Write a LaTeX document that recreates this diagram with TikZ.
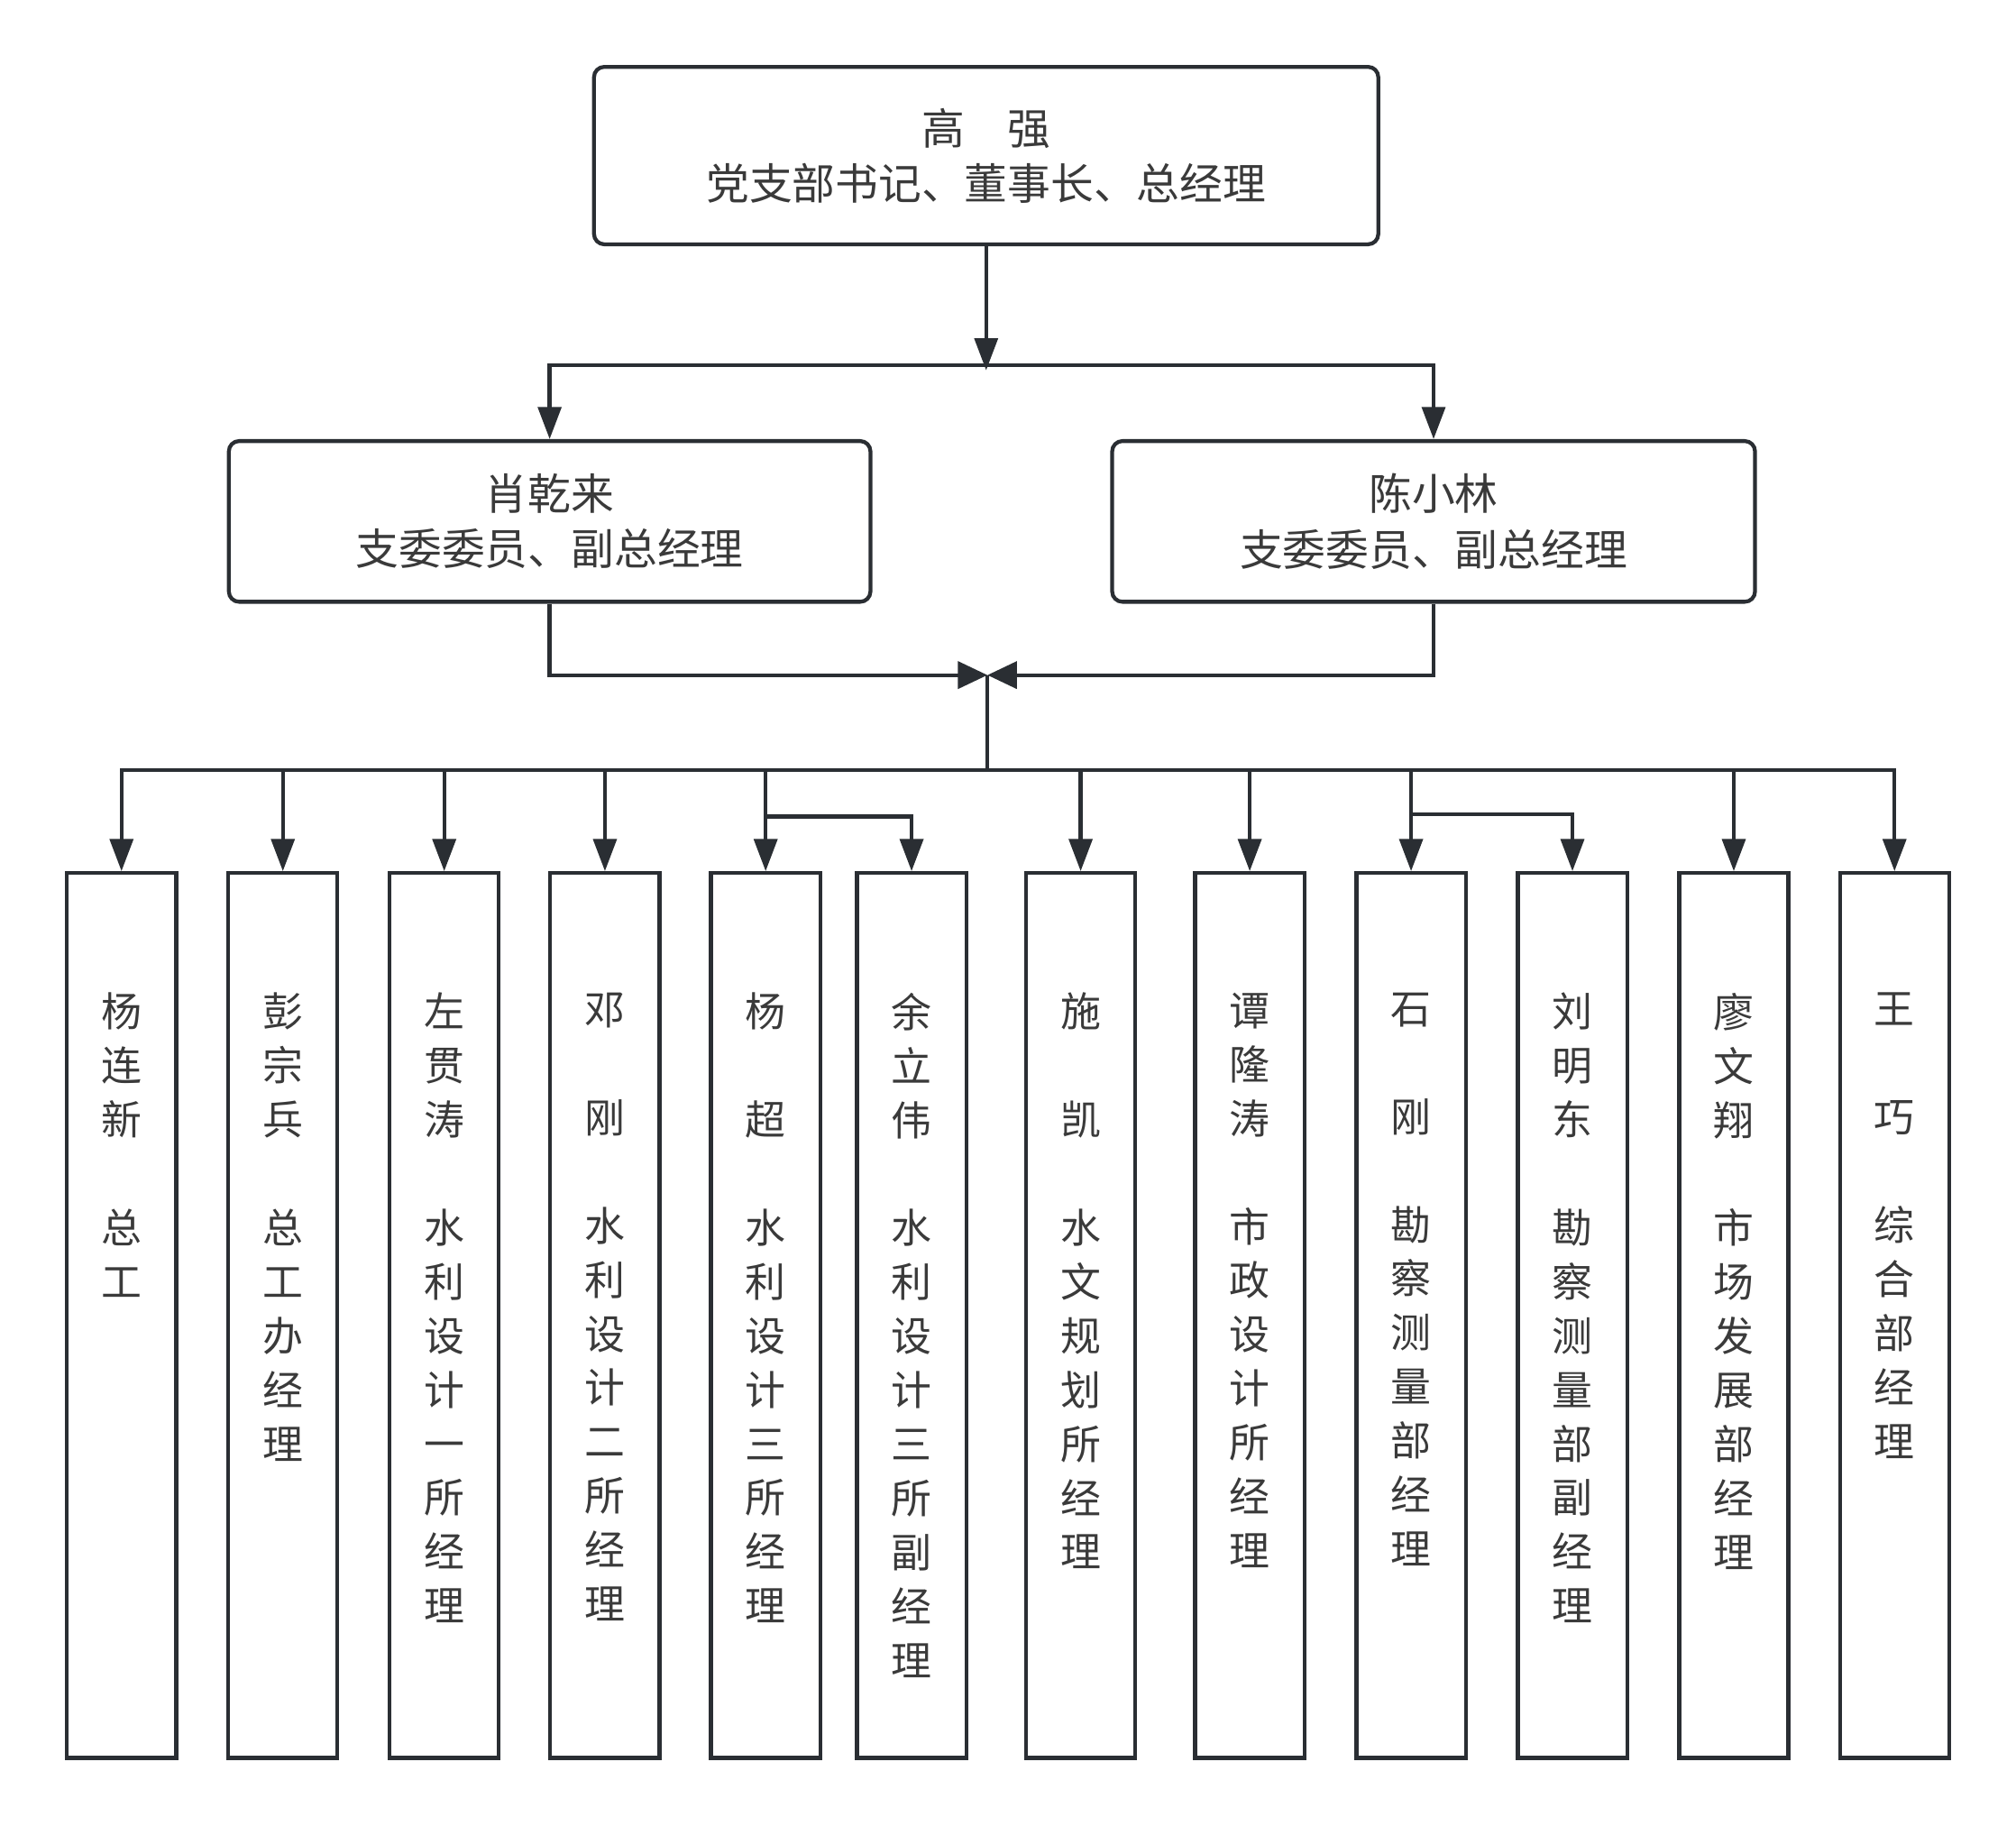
\documentclass[tikz,border=0pt]{standalone}
\usepackage{fontspec}
\newfontfamily\cjk{Noto Sans CJK SC}
\usetikzlibrary{arrows.meta}
\definecolor{linec}{HTML}{2A2E33}
\definecolor{textc}{HTML}{3A3A3A}
\begin{document}
\begin{tikzpicture}[x=1pt,y=-1pt,
  box/.style={draw=linec, line width=3pt, rounded corners=8pt, fill=white, inner sep=0pt,
    align=center, text=textc, font=\cjk\fontsize{33.5}{43}\selectfont},
  colbox/.style={draw=linec, line width=3pt, fill=white, inner sep=0pt,
    minimum width=85pt, minimum height=688pt},
  coltext/.style={anchor=north, inner sep=0pt, align=center, text=textc,
    font=\cjk\fontsize{31.5}{42}\selectfont},
  conn/.style={draw=linec, line width=3pt},
  arr/.style={conn, -{Triangle[length=25pt,width=18pt]}},
  arrb/.style={conn, -{Triangle[length=23pt,width=21pt]}}]
\useasboundingbox (0,0) rectangle (1568,1420);
% top
\node[box, minimum width=610pt, minimum height=138pt] (top) at (767,121)
  {高　强\\党支部书记、董事长、总经理};
\node[box, minimum width=499pt, minimum height=125pt] (m1) at (427.5,405.5)
  {肖乾来\\支委委员、副总经理};
\node[box, minimum width=500pt, minimum height=125pt] (m2) at (1115,405.5)
  {陈小林\\支委委员、副总经理};
% bottom boxes
\node[colbox] (b1) at (94.5,1023) {};
\node[colbox] (b2) at (220,1023) {};
\node[colbox] (b3) at (345.5,1023) {};
\node[colbox] (b4) at (470.5,1023) {};
\node[colbox] (b5) at (595.5,1023) {};
\node[colbox] (b6) at (709,1023) {};
\node[colbox] (b7) at (840.5,1023) {};
\node[colbox] (b8) at (972,1023) {};
\node[colbox] (b9) at (1097.5,1023) {};
\node[colbox] (b10) at (1223,1023) {};
\node[colbox] (b11) at (1348.5,1023) {};
\node[colbox] (b12) at (1473.5,1023) {};
% texts
\node[coltext] (t1) at (94.5,772) {杨\\连\\新\\[42pt]总\\工};
\node[coltext] (t2) at (220,772) {彭\\宗\\兵\\[42pt]总\\工\\办\\经\\理};
\node[coltext] (t3) at (345.5,772) {左\\贯\\涛\\[42pt]水\\利\\设\\计\\一\\所\\经\\理};
\node[coltext] (t4) at (470.5,772) {邓\\[42pt]刚\\[42pt]水\\利\\设\\计\\二\\所\\经\\理};
\node[coltext] (t5) at (595.5,772) {杨\\[42pt]超\\[42pt]水\\利\\设\\计\\三\\所\\经\\理};
\node[coltext] (t6) at (709,772) {余\\立\\伟\\[42pt]水\\利\\设\\计\\三\\所\\副\\经\\理};
\node[coltext] (t7) at (840.5,772) {施\\[42pt]凯\\[42pt]水\\文\\规\\划\\所\\经\\理};
\node[coltext] (t8) at (972,772) {谭\\隆\\涛\\[42pt]市\\政\\设\\计\\所\\经\\理};
\node[coltext] (t9) at (1097.5,772) {石\\[42pt]刚\\[42pt]勘\\察\\测\\量\\部\\经\\理};
\node[coltext] (t10) at (1223,772) {刘\\明\\东\\[42pt]勘\\察\\测\\量\\部\\副\\经\\理};
\node[coltext] (t11) at (1348.5,772) {廖\\文\\翔\\[42pt]市\\场\\发\\展\\部\\经\\理};
\node[coltext] (t12) at (1473.5,772) {王\\[42pt]巧\\[42pt]综\\合\\部\\经\\理};
% connectors
\coordinate (jt) at (767,288);
\coordinate (hb) at (767,284);
\coordinate (bow) at (768,525);
\coordinate (bus) at (768,599);
\coordinate (k5) at (595.5,635);
\coordinate (k9) at (1097.5,633);
\draw[arr] (top.south) -- (jt);
\draw[arr] (hb) -| (m1.north);
\draw[arr] (hb) -| (m2.north);
\draw[arrb] (m1.south) |- (bow);
\draw[arrb] (m2.south) |- (bow);
\draw[conn] (bow) -- (bus);
\foreach \b in {b1,b2,b3,b4,b5,b7,b8,b9,b11,b12}
  \draw[arr] (bus) -| (\b.north);
\draw[arr] (k5) -| (b6.north);
\draw[arr] (k9) -| (b10.north);
\end{tikzpicture}
\end{document}
